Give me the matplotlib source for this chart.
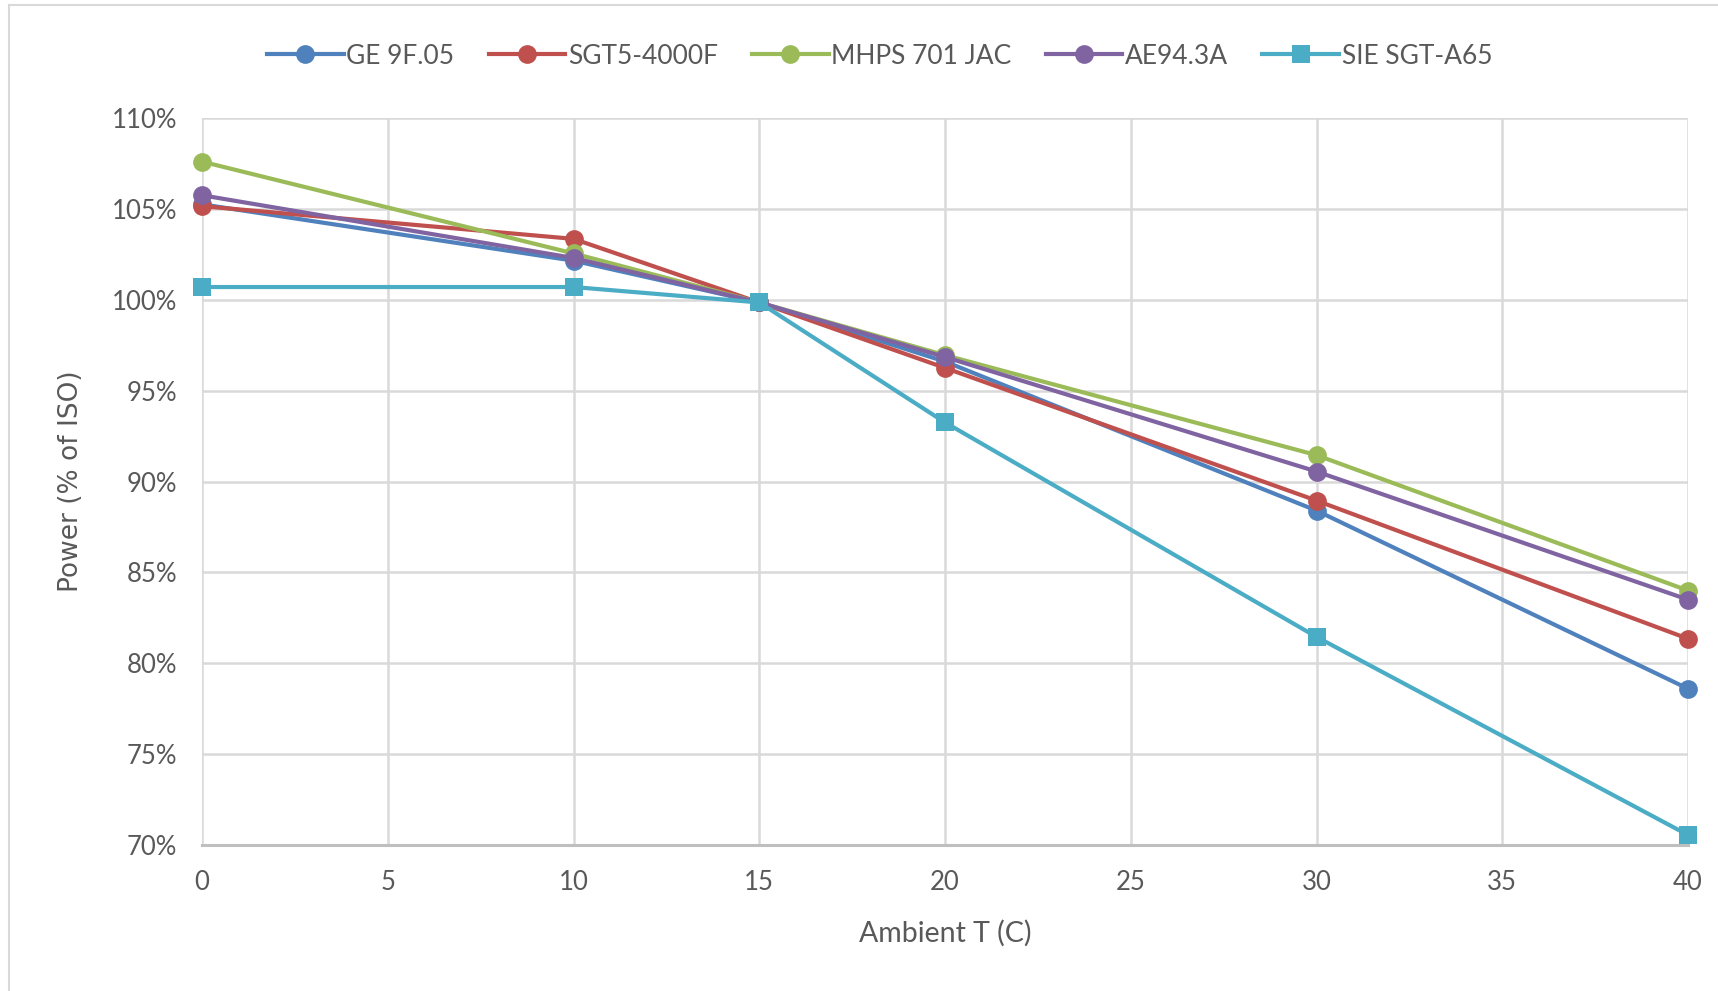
import matplotlib
matplotlib.use("Agg")
import matplotlib.pyplot as plt
from matplotlib.lines import Line2D
from matplotlib.ticker import FuncFormatter, MultipleLocator

plt.rcParams['font.family'] = ['Lato', 'DejaVu Sans']

temps = [0, 10, 15, 20, 30, 40]
ge_9f05 = [105.25, 102.15, 99.85, 96.6, 88.4, 78.6]
sgt5_4000f = [105.15, 103.35, 99.85, 96.25, 88.95, 81.35]
mhps_701jac = [107.6, 102.55, 99.85, 96.95, 91.45, 84.0]
ae94_3a = [105.75, 102.3, 99.85, 96.85, 90.55, 83.5]
sie_sgt_a65 = [100.7, 100.7, 99.85, 93.25, 81.45, 70.55]

series_names = ["GE 9F.05", "SGT5-4000F", "MHPS 701 JAC", "AE94.3A", "SIE SGT-A65"]
series_values = [ge_9f05, sgt5_4000f, mhps_701jac, ae94_3a, sie_sgt_a65]
colors = ["#4F81BD", "#C0504D", "#9BBB59", "#8064A2", "#4BACC6"]
markers = ["o", "o", "o", "o", "s"]

W, H = 1718, 991
fig = plt.figure(figsize=(W / 100, H / 100), dpi=100)
ax = fig.add_axes([202 / W, 1 - 845 / H, (1688 - 202) / W, (845 - 118) / H])

for name, vals, c, m in zip(series_names, series_values, colors, markers):
    ax.plot(temps, vals, color=c, lw=3.0, marker=m,
            markersize=13.5 if m == "o" else 12.5, markeredgewidth=0,
            label=name, clip_on=False, zorder=3)

ax.set_xlim(0, 40)
ax.set_ylim(70, 110)
ax.xaxis.set_major_locator(MultipleLocator(5))
ax.yaxis.set_major_locator(MultipleLocator(5))
ax.yaxis.set_major_formatter(FuncFormatter(lambda v, p: f"{v:.0f}%"))
ax.grid(True, color="#D9D9D9", lw=1.8)
ax.set_axisbelow(True)
for s in ["top", "right", "left"]:
    ax.spines[s].set_visible(False)
ax.spines["bottom"].set_color("#BFBFBF")
ax.spines["bottom"].set_linewidth(2.2)
ax.tick_params(axis="both", length=0, labelsize=18.5, labelcolor="#595959")
ax.tick_params(axis="y", pad=18)
ax.tick_params(axis="x", pad=18)

ax.set_xlabel("Ambient T (C)", fontsize=20.5, color="#595959", labelpad=18)
ax.set_ylabel("Power (% of ISO)", fontsize=19, color="#595959", labelpad=20,
              family=["DejaVu Sans"])

handles = [Line2D([0], [0], color=c, lw=3.0, marker=m, markersize=13.5 if m == "o" else 12.5,
                  markeredgewidth=0) for c, m in zip(colors, markers)]
leg = fig.legend(handles, series_names, loc="center", bbox_to_anchor=(0.512, 1 - 56 / H),
                 ncol=5, frameon=False, fontsize=19, handlelength=2.9, handletextpad=0.1,
                 columnspacing=1.3)
for t in leg.get_texts():
    t.set_color("#595959")

# chart area border (left and top visible)
fig.add_artist(Line2D([9 / W, 9 / W], [0, 1 - 5 / H], color="#D9D9D9", lw=1.5,
                      transform=fig.transFigure))
fig.add_artist(Line2D([9 / W, 1], [1 - 5 / H, 1 - 5 / H], color="#D9D9D9", lw=1.5,
                      transform=fig.transFigure))

fig.savefig("out.png", dpi=100, facecolor="white")
